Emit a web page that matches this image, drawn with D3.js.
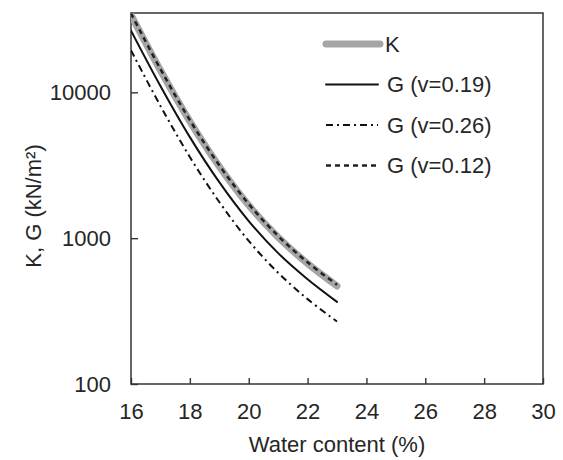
<!DOCTYPE html>
<html>
<head>
<meta charset="utf-8">
<script src="https://cdn.jsdelivr.net/npm/d3@7"></script>
<style>
  body { margin: 0; background: #fff; }
  text { font-family: "Liberation Sans", Arial, sans-serif; fill: #262626; }
</style>
</head>
<body>
<svg id="chart" width="563" height="460"></svg>
<script>
// values (kN/m2, log axis)
const waterContent = [16, 17, 18, 19, 20, 21, 22, 23];
const kBulk   = [34000, 14160, 6320, 3100, 1680, 1015, 670, 470];
const gV019   = [26500, 11050, 4930, 2420, 1310, 790, 523, 366];
const gV026   = [19400, 8070, 3600, 1770, 958, 579, 382, 268];
const gV012   = [34700, 14450, 6450, 3160, 1715, 1035, 683, 479];

const xTicks = [16, 18, 20, 22, 24, 26, 28, 30];
const yTicks = [100, 1000, 10000];

const seriesNames = ["K", "G (v=0.19)", "G (v=0.26)", "G (v=0.12)"];

const svg = d3.select("#chart"),
    margin = { top: 13, right: 20, bottom: 76, left: 131 },
    width = +svg.attr("width") - margin.left - margin.right,
    height = +svg.attr("height") - margin.top - margin.bottom,
    chart = svg.append("g").attr("transform", `translate(${margin.left},${margin.top})`);

const x = d3.scaleLinear().domain([16, 30]).range([0, width]);
const y = d3.scaleLog().domain([100, 35000]).range([height, 0]);

const styles = [
    { values: kBulk, stroke: "#a5a5a5", width: 7, dash: null },
    { values: gV019, stroke: "#111", width: 2, dash: null },
    { values: gV026, stroke: "#111", width: 2, dash: "7,4,2,4" },
    { values: gV012, stroke: "#222", width: 2.5, dash: "5,4" }
];

svg.append("defs").append("clipPath").attr("id", "plot-clip")
    .append("rect").attr("width", width).attr("height", height);

// axes
const xAxis = d3.axisBottom(x).tickValues(xTicks).tickSizeInner(-6).tickSizeOuter(0).tickPadding(19);
const yAxis = d3.axisLeft(y).tickValues(yTicks).tickFormat(d3.format("d"))
    .tickSizeInner(-7).tickSizeOuter(0).tickPadding(20);

const gx = chart.append("g").attr("transform", `translate(0,${height})`).call(xAxis);
const gy = chart.append("g").call(yAxis);
[gx, gy].forEach(g => {
    g.select(".domain").remove();
    g.selectAll("line").attr("stroke", "#333").attr("stroke-width", 1.4);
    g.selectAll("text").attr("font-size", 22).attr("fill", "#262626")
        .style("font-family", "'Liberation Sans', Arial, sans-serif");
});

chart.append("rect")
    .attr("width", width).attr("height", height)
    .attr("fill", "none").attr("stroke", "#333").attr("stroke-width", 1.5);

// lines
const line = d3.line()
    .x((d, i) => x(waterContent[i]))
    .y(d => y(d))
    .curve(d3.curveCatmullRom.alpha(0.5));

const lines = chart.append("g").attr("clip-path", "url(#plot-clip)");
styles.forEach(s => {
    lines.append("path")
        .datum(s.values)
        .attr("d", line)
        .attr("fill", "none")
        .attr("stroke", s.stroke)
        .attr("stroke-width", s.width)
        .attr("stroke-linecap", s.dash ? "butt" : "round")
        .attr("stroke-dasharray", s.dash);
});

// labels
svg.append("text")
    .attr("x", margin.left + width / 2).attr("y", 452)
    .attr("text-anchor", "middle").attr("font-size", 22)
    .text("Water content (%)");

svg.append("text")
    .attr("transform", "translate(41,206) rotate(-90)")
    .attr("text-anchor", "middle").attr("font-size", 22)
    .text("K, G (kN/m²)");

// legend
const legend = svg.append("g").attr("transform", "translate(326,44)");
styles.forEach((s, i) => {
    const row = legend.append("g").attr("transform", `translate(0,${i * 40.5})`);
    row.append("line")
        .attr("x1", 0).attr("x2", i === 0 ? 54 : 52)
        .attr("stroke", s.stroke)
        .attr("stroke-width", s.width)
        .attr("stroke-linecap", s.dash ? "butt" : "round")
        .attr("stroke-dasharray", s.dash);
    row.append("text")
        .attr("x", i === 0 ? 59 : 61).attr("dy", "0.36em")
        .attr("font-size", 22)
        .text(seriesNames[i]);
});
</script>
</body>
</html>
